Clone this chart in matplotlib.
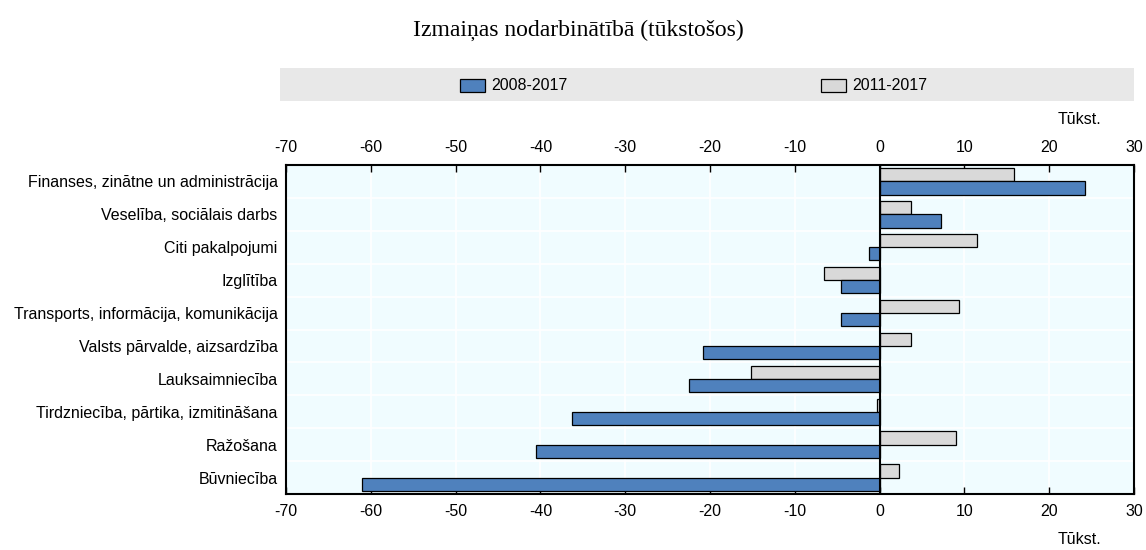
import matplotlib
matplotlib.use("Agg")
import matplotlib.pyplot as plt
from matplotlib.patches import Rectangle
import numpy as np

categories = [
    "Finanses, zinātne un administrācija",
    "Veselība, sociālais darbs",
    "Citi pakalpojumi",
    "Izglītība",
    "Transports, informācija, komunikācija",
    "Valsts pārvalde, aizsardzība",
    "Lauksaimniecība",
    "Tirdzniecība, pārtika, izmitināšana",
    "Ražošana",
    "Būvniecība",
]
s2008 = [24.2, 7.2, -1.2, -4.5, -4.5, -20.8, -22.5, -36.3, -40.5, -61.0]
s2011 = [15.9, 3.7, 11.5, -6.5, 9.4, 3.7, -15.2, -0.3, 9.0, 2.3]
series_names = ["2008-2017", "2011-2017"]
xticks = list(range(-70, 31, 10))
title = "Izmaiņas nodarbinātībā (tūkstošos)"
unit = "Tūkst."

FS = 11.5
plt.rcParams['font.family'] = ['Liberation Sans', 'DejaVu Sans']
W, H = 1146, 550
fig = plt.figure(figsize=(W/100, H/100), dpi=100)
ax = fig.add_axes([286/W, 1-494/H, (1134-286)/W, (494-165)/H])
ax.set_facecolor('#F0FCFF')

n = len(categories)
y = np.arange(n)
h = 0.4
blue = '#4F81BD'
grey = '#D9D9D9'
ax.barh(y - h/2, s2011, height=h, color=grey, edgecolor='black', linewidth=0.9, zorder=3)
ax.barh(y + h/2, s2008, height=h, color=blue, edgecolor='black', linewidth=0.9, zorder=3)
ax.set_ylim(n - 0.5, -0.5)
ax.set_xlim(-70, 30)
ax.set_yticks(y)
ax.set_yticklabels(categories, fontsize=FS)
ax.tick_params(axis='y', length=0, pad=6)
ax.set_xticks(xticks)
ax.set_xticklabels([str(t) for t in xticks], fontsize=FS)
ax.tick_params(axis='x', direction='in', length=5, width=1, top=True, labeltop=True, bottom=True, labelbottom=True, pad=7)
for t in xticks:
    ax.axvline(t, color='white', lw=1.2, zorder=1)
for b in np.arange(n - 1) + 0.5:
    ax.axhline(b, color='white', lw=1.2, zorder=1)
ax.axvline(0, color='black', lw=1.5, zorder=4)
for sp in ax.spines.values():
    sp.set_linewidth(1.5)
    sp.set_color('black')

fig.text(578/W, 1-30/H, title, fontsize=17, family='Liberation Serif', ha='center', va='center')
fig.text(1080/W, 1-119/H, unit, fontsize=FS, ha='center', va='center')
fig.text(1080/W, 1-539/H, unit, fontsize=FS, ha='center', va='center')

# legend band
fig.patches.append(Rectangle((280/W, 1-101/H), (1134-280)/W, 33/H, transform=fig.transFigure,
                             facecolor='#E8E8E8', edgecolor='none'))
for px, col, name in [(460, blue, series_names[0]), (821, grey, series_names[1])]:
    fig.patches.append(Rectangle((px/W, 1-92/H), 25/W, 13/H, transform=fig.transFigure,
                                 facecolor=col, edgecolor='black', linewidth=0.9))
    fig.text((px+31)/W, 1-86/H, name, fontsize=FS, ha='left', va='center')

fig.savefig('out.png', dpi=100)
